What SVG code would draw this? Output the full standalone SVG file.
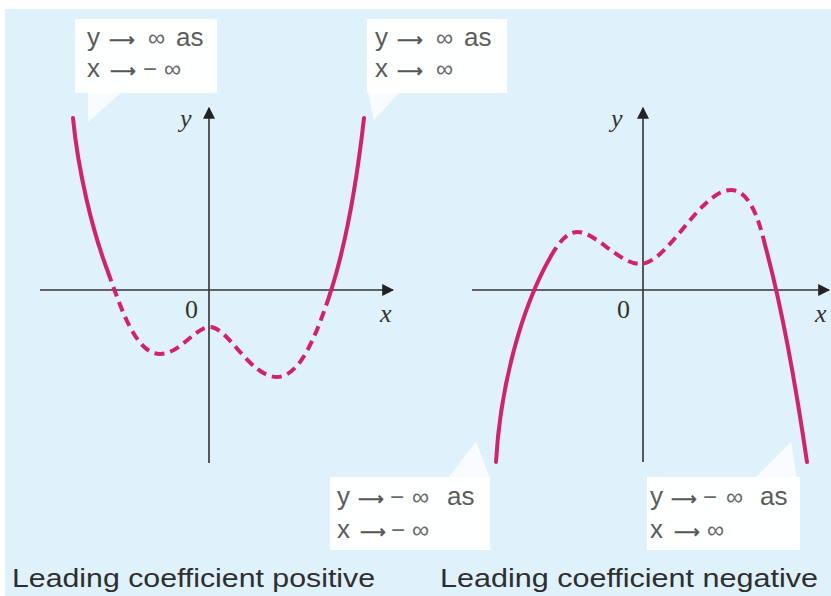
<svg xmlns="http://www.w3.org/2000/svg" width="831" height="596" viewBox="0 0 831 596">
  <style>
    .axis { stroke: #333; stroke-width: 1.6; fill: none; }
    .curve { stroke: #d4206d; stroke-width: 4; fill: none; stroke-linecap: round; }
    .dash { stroke-dasharray: 10 6; stroke-linecap: butt; }
    .box { fill: #ffffff; opacity: 0.95; }
    .tail { fill: #ffffff; opacity: 0.8; }
    .note { font-family: "Liberation Sans", Arial, sans-serif; font-size: 26px; fill: #5c5c5c; }
    .inf { font-size: 24px; fill: #6a6a6a; }
    .arr { font-family: "DejaVu Sans", sans-serif; font-size: 18px; fill: #555; stroke: #555; stroke-width: 0.6; }
    .lbl { font-family: "Liberation Serif", "Times New Roman", serif; font-size: 26px; fill: #333; }
    .it { font-style: italic; }
    .cap { font-family: "Liberation Sans", Arial, sans-serif; font-size: 26px; fill: #2e2e2e; }
  </style>
  <defs>
    <marker id="ah" viewBox="0 0 10 10" refX="9" refY="5" markerWidth="12" markerHeight="12" markerUnits="userSpaceOnUse" orient="auto">
      <path d="M0,0 L10,5 L0,10 z" fill="#222"/>
    </marker>
  </defs>
  <rect x="0" y="0" width="831" height="596" fill="#ffffff"/>
  <rect x="5" y="9" width="826" height="587" fill="#dff1fb"/>

  <g id="panel-positive">
    <g id="axes-left">
      <line class="axis" x1="40" y1="290" x2="393" y2="290" marker-end="url(#ah)"/>
      <line class="axis" x1="209" y1="463" x2="209" y2="108" marker-end="url(#ah)"/>
      <text class="lbl it" x="180" y="127" font-size="24">y</text>
      <text class="lbl" x="185" y="318">0</text>
      <text class="lbl it" x="380" y="322">x</text>
    </g>
    <g id="curve-left">
      <path class="curve" d="M73,118 C78,170 92,230 108,272"/>
      <path class="curve dash" d="M108,272 C120,305 135,354 160,354 C180,354 195,327 210,327 C228,327 250,377 277,377 C300,377 316,335 328,300"/>
      <path class="curve" d="M328,300 C345,250 357,180 364,118"/>
    </g>
    <g id="note-left-top">
      <polygon class="tail" points="88,92 122,92 88,122"/>
      <rect class="box" x="75" y="19" width="142" height="74"/>
      <text class="note" y="46"><tspan x="87">y</tspan><tspan class="arr" x="109">⟶</tspan><tspan class="inf" x="148">∞</tspan><tspan x="176">as</tspan></text>
      <text class="note" y="77"><tspan x="87">x</tspan><tspan class="arr" x="110">⟶</tspan><tspan class="inf" x="143">−</tspan><tspan class="inf" x="164">∞</tspan></text>
    </g>
    <g id="note-right-top">
      <polygon class="tail" points="368,92 400,92 374,120"/>
      <rect class="box" x="367" y="19" width="140" height="74"/>
      <text class="note" y="46"><tspan x="375">y</tspan><tspan class="arr" x="397">⟶</tspan><tspan class="inf" x="436">∞</tspan><tspan x="464">as</tspan></text>
      <text class="note" y="77"><tspan x="375">x</tspan><tspan class="arr" x="397">⟶</tspan><tspan class="inf" x="436">∞</tspan></text>
    </g>
    <text id="caption-left" class="cap" x="12" y="587" textLength="363" lengthAdjust="spacingAndGlyphs">Leading coefficient positive</text>
  </g>

  <g id="panel-negative">
    <g id="axes-right">
      <line class="axis" x1="472" y1="290" x2="829" y2="290" marker-end="url(#ah)"/>
      <line class="axis" x1="643" y1="462" x2="643" y2="108" marker-end="url(#ah)"/>
      <text class="lbl it" x="611" y="127" font-size="24">y</text>
      <text class="lbl" x="617" y="318">0</text>
      <text class="lbl it" x="815" y="322">x</text>
    </g>
    <g id="curve-right">
      <path class="curve" d="M496,462 C500,390 520,310 551,256"/>
      <path class="curve dash" d="M551,256 C560,240 568,232 578,232 C595,232 620,264 640,264 C668,264 700,190 731,190 C748,190 758,215 765,245"/>
      <path class="curve" d="M765,245 C780,300 795,380 807,462"/>
    </g>
    <g id="note-left-bottom">
      <polygon class="tail" points="448,478 490,478 476,442"/>
      <rect class="box" x="330" y="477" width="160" height="73"/>
      <text class="note" y="505"><tspan x="337">y</tspan><tspan class="arr" x="358">⟶</tspan><tspan class="inf" x="390">−</tspan><tspan class="inf" x="412">∞</tspan><tspan x="447">as</tspan></text>
      <text class="note" y="538"><tspan x="337">x</tspan><tspan class="arr" x="360">⟶</tspan><tspan class="inf" x="391">−</tspan><tspan class="inf" x="412">∞</tspan></text>
    </g>
    <g id="note-right-bottom">
      <polygon class="tail" points="755,478 797,478 791,442"/>
      <rect class="box" x="647" y="477" width="153" height="73"/>
      <text class="note" y="505"><tspan x="650">y</tspan><tspan class="arr" x="671">⟶</tspan><tspan class="inf" x="703">−</tspan><tspan class="inf" x="726">∞</tspan><tspan x="760">as</tspan></text>
      <text class="note" y="538"><tspan x="650">x</tspan><tspan class="arr" x="674">⟶</tspan><tspan class="inf" x="707">∞</tspan></text>
    </g>
    <text id="caption-right" class="cap" x="440" y="587" textLength="378" lengthAdjust="spacingAndGlyphs">Leading coefficient negative</text>
  </g>
</svg>
